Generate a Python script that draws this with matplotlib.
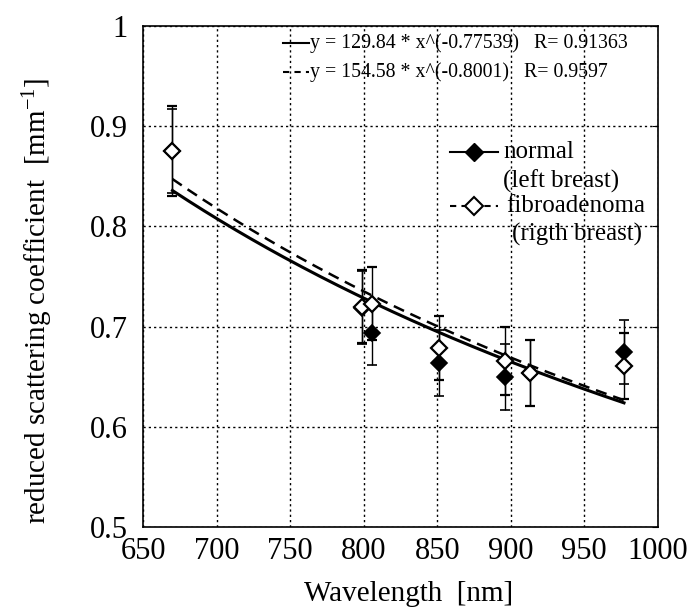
import numpy as np
import matplotlib
matplotlib.use("Agg")
import matplotlib.pyplot as plt
from matplotlib.lines import Line2D
from matplotlib.ticker import FuncFormatter

plt.rcParams['font.family'] = ['Liberation Serif', 'DejaVu Serif']
plt.rcParams['mathtext.fontset'] = 'custom'
plt.rcParams['mathtext.rm'] = 'Liberation Serif'
plt.rcParams['mathtext.it'] = 'Liberation Serif'

# ---- data ----
wl_normal = [670, 799, 806, 851, 896, 913, 977]
mu_normal = [0.875, 0.719, 0.694, 0.664, 0.650, 0.654, 0.675]
err_normal = [0.042, 0.036, 0.032, 0.033, 0.033, 0.033, 0.032]

wl_fibro = [670, 799, 806, 851, 896, 913, 977]
mu_fibro = [0.875, 0.720, 0.723, 0.679, 0.666, 0.654, 0.661]
err_fibro = [0.045, 0.036, 0.036, 0.032, 0.034, 0.033, 0.033]

# power-law trendlines as printed on the chart: y = a * x^b
fit_a = [129.84, 154.58]
fit_b = [-0.77539, -0.8001]
fit_labels = ["y = 129.84 * x^(-0.77539)   R= 0.91363",
              "y = 154.58 * x^(-0.8001)   R= 0.9597"]
fit_styles = ['-', '--']

xticks = [650, 700, 750, 800, 850, 900, 950, 1000]
yticks = [0.5, 0.6, 0.7, 0.8, 0.9, 1.0]

fig = plt.figure(figsize=(6.91, 6.12), dpi=100)
ax = fig.add_axes([0.207, 0.139, 0.745, 0.8185])

# trendlines
xfit = np.linspace(min(wl_fibro), max(wl_fibro), 200)
for a, b, ls in zip(fit_a, fit_b, fit_styles):
    ax.plot(xfit, a * xfit ** b, color='black', lw=2.2 if ls == '-' else 1.8,
            linestyle=ls if ls == '-' else (0, (4.5, 2.8)), zorder=3)

# data
ax.errorbar(wl_normal, mu_normal, yerr=err_normal, fmt='D', color='black',
            mfc='black', mec='black', ms=8.5, mew=1.2, ecolor='black',
            elinewidth=1.0, capsize=3.8, capthick=1.0, zorder=4)
ax.errorbar(wl_fibro, mu_fibro, yerr=err_fibro, fmt='D', color='black',
            mfc='white', mec='black', ms=8.5, mew=1.6, ecolor='black',
            elinewidth=1.0, capsize=3.8, capthick=1.0, zorder=5)

ax.set_xlim(650, 1000)
ax.set_ylim(0.5, 1.0)
ax.set_xticks(xticks)
ax.set_yticks(yticks)
ax.yaxis.set_major_formatter(FuncFormatter(lambda v, p: f"{v:g}"))
ax.grid(True, color='black', linestyle=(0, (1.6, 2.2)), linewidth=1.0)
ax.set_axisbelow(True)
ax.tick_params(axis='both', which='both', length=0, labelsize=22)
ax.tick_params(axis='y', pad=11)
ax.tick_params(axis='x', pad=7)
ax.tick_params(axis='y', right=True, direction='in', length=4)
ax.tick_params(axis='y', left=False)
for sp in ax.spines.values():
    sp.set_linewidth(1.2)

ax.set_xlabel("Wavelength  [nm]", fontsize=21)
ax.xaxis.set_label_coords(0.515, -0.108)
ax.set_ylabel("reduced scattering coefficient  [mm$^{-1}$]", fontsize=21)
ax.yaxis.set_label_coords(-0.171, 0.451)

# trendline legend (Excel-like)
rows_y = [0.966, 0.908]
for yy, ls, lab in zip(rows_y, fit_styles, fit_labels):
    ax.add_line(Line2D([0.272, 0.322], [yy, yy], transform=ax.transAxes,
                       color='black', lw=1.5,
                       linestyle='-' if ls == '-' else (0, (3, 2.5))))
    ax.text(0.324, yy, lab, transform=ax.transAxes, fontsize=14.3,
            va='center', ha='left')

# series legend
ax.add_line(Line2D([0.596, 0.6425, 0.689], [0.749, 0.749, 0.749],
                   transform=ax.transAxes, color='black', lw=1.5,
                   marker='D', markevery=[1], ms=9, mfc='black', mec='black'))
ax.text(0.699, 0.749, "normal", transform=ax.transAxes, fontsize=18,
        va='center', ha='left')
ax.text(0.699, 0.689, "(left breast)", transform=ax.transAxes, fontsize=18,
        va='center', ha='left')
ax.add_line(Line2D([0.596, 0.6425, 0.689], [0.641, 0.641, 0.641],
                   transform=ax.transAxes, color='black', lw=1.5,
                   linestyle=(0, (3, 2.5)), marker='D', markevery=[1], ms=9,
                   mfc='white', mec='black', mew=1.5))
ax.text(0.705, 0.641, "fibroadenoma", transform=ax.transAxes, fontsize=18,
        va='center', ha='left')
ax.text(0.717, 0.583, "(rigth breast)", transform=ax.transAxes, fontsize=18,
        va='center', ha='left')

fig.savefig("out.png", dpi=100)
